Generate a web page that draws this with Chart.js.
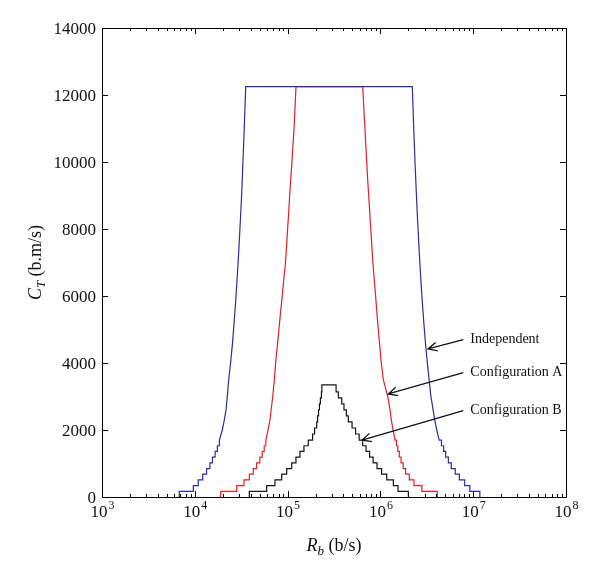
<!DOCTYPE html>
<html>
<head>
<meta charset="utf-8">
<script src="https://cdn.jsdelivr.net/npm/chart.js@4"></script>
<style>
  html, body { margin: 0; padding: 0; background: #fff; }
  canvas { display: block; }
</style>
</head>
<body>
<canvas id="chart" width="600" height="576"></canvas>
<script>
// traced vertices: R_b (b/s) and C_T (b.m/s). Stair corners where the steps are visible,
// plain points along the steep part where the steps are finer than a pixel.
const indepX = [6800, 6800, 9640, 9640, 10900, 10900, 12170, 12170, 13400, 13400, 14550, 14550, 15500, 15500, 16550, 16550, 17500, 17500, 18400, 18400,
  19800, 20800, 21700, 22400, 23200, 24300, 25500, 26500, 27500, 28400, 29300, 30100, 30900, 31700, 32400, 33000, 33700, 34300, 34900, 35400,
  2207000, 2235000, 2274000, 2316000, 2361000, 2411000, 2464000, 2523000, 2588000, 2660000, 2740000, 2832000, 2937000, 3059000, 3205000, 3351000,
  3500000, 3700000, 3850000, 4050000, 4300000,
  4550000, 4550000, 4800000, 4800000, 5050000, 5050000, 5400000, 5400000, 5800000, 5800000, 6400000, 6400000, 7100000, 7100000, 8100000, 8100000, 9200000, 9200000, 11800000, 11800000];
const indepY = [0, 170, 170, 340, 340, 510, 510, 680, 680, 850, 850, 1020, 1020, 1190, 1190, 1360, 1360, 1530, 1530, 1700,
  2000, 2300, 2600, 3000, 3500, 4000, 4600, 5200, 5800, 6400, 7000, 7600, 8200, 8800, 9400, 10000, 10600, 11200, 11800, 12250,
  12250, 11800, 11200, 10600, 10000, 9400, 8800, 8200, 7600, 7000, 6400, 5800, 5200, 4600, 4000, 3500,
  3000, 2600, 2300, 2000, 1700,
  1700, 1530, 1530, 1360, 1360, 1190, 1190, 1020, 1020, 850, 850, 680, 680, 510, 510, 340, 340, 170, 170, 0];

const confAX = [19000, 19000, 28300, 28300, 33900, 33900, 38700, 38700, 42700, 42700, 46400, 46400, 50300, 50300, 53300, 53300, 56000, 56000, 58300, 58300,
  61500, 64600, 66500, 69200, 72000, 74300, 77400, 80600, 83900, 87500, 91000, 94900, 97500, 100000, 102800, 105300, 108300, 111200, 114300, 117400, 119600, 122000, 123200,
  645000, 651900, 665800, 681500, 696200, 712000, 728100, 748200, 767100, 788400, 808200, 830500, 857600, 887900, 917000, 949400, 985200, 1022600, 1074600,
  1200000, 1270000, 1310000, 1370000, 1440000,
  1490000, 1490000, 1540000, 1540000, 1600000, 1600000, 1670000, 1670000, 1760000, 1760000, 1870000, 1870000, 2050000, 2050000, 2300000, 2300000, 2800000, 2800000, 4100000, 4100000];
const confAY = [0, 170, 170, 340, 340, 510, 510, 680, 680, 850, 850, 1020, 1020, 1190, 1190, 1360, 1360, 1530, 1530, 1700,
  2000, 2300, 2600, 3000, 3500, 4000, 4500, 5000, 5500, 6000, 6500, 7000, 7500, 8000, 8500, 9000, 9500, 10000, 10500, 11000, 11500, 12000, 12250,
  12250, 12000, 11500, 11000, 10500, 10000, 9500, 9000, 8500, 8000, 7500, 7000, 6500, 6000, 5500, 5000, 4500, 4000, 3500,
  3000, 2600, 2300, 2000, 1700,
  1700, 1530, 1530, 1360, 1360, 1190, 1190, 1020, 1020, 850, 850, 680, 680, 510, 510, 340, 340, 170, 170, 0];

// Configuration B: R_b where the staircase jumps, and the level it jumps to
const confBX = [38700, 38700, 59500, 73100, 86400, 97800, 110700, 123000, 136000, 150000, 167000, 186000, 195400, 205900, 210400, 215400, 220400, 225500, 231500, 234000,
  333000, 352000, 383000, 405000, 430000, 451000, 495000, 540000, 590000, 645000, 700000, 765000, 835000, 920000, 1030000, 1170000, 1380000, 1548000, 2000000];
const confBY = [0, 170, 340, 510, 680, 850, 1020, 1190, 1360, 1530, 1700, 1880, 2060, 2240, 2420, 2600, 2780, 2960, 3140, 3350,
  3140, 2960, 2780, 2600, 2420, 2240, 2060, 1880, 1700, 1530, 1360, 1190, 1020, 850, 680, 510, 340, 170, 0];

const xTickExps = [3, 4, 5, 6, 7, 8];
const yTicks = [0, 2000, 4000, 6000, 8000, 10000, 12000, 14000];

// labels: arrow tip (on the curve) and tail/text anchor, in data units
const notes = [
  { text: 'Independent', tip: [3260000, 4420], tail: [7820000, 4700] },
  { text: 'Configuration A', tip: [1216000, 3075], tail: [7820000, 3710] },
  { text: 'Configuration B', tip: [634000, 1700], tail: [7820000, 2576] }
];

const pts = (xs, ys) => xs.map((x, i) => ({ x, y: ys[i] }));
const serif = '"Liberation Serif", "DejaVu Serif", serif';

const frame = {
  id: 'frame',
  afterDraw(chart) {
    const { ctx, chartArea: a, scales } = chart;
    const sx = scales.x, sy = scales.y;
    ctx.save();
    ctx.strokeStyle = '#000';
    ctx.lineWidth = 1;
    ctx.strokeRect(a.left + 0.5, a.top + 0.5, a.right - a.left, a.bottom - a.top);

    // y ticks, inside on both sides
    ctx.fillStyle = '#111';
    ctx.font = '17px ' + serif;
    ctx.textAlign = 'right';
    ctx.textBaseline = 'middle';
    yTicks.forEach((v) => {
      const y = Math.round(sy.getPixelForValue(v)) + 0.5;
      ctx.beginPath();
      ctx.moveTo(a.left, y); ctx.lineTo(a.left + 6, y);
      ctx.moveTo(a.right, y); ctx.lineTo(a.right - 6, y);
      ctx.stroke();
      ctx.fillText(String(v), a.left - 6, y + 1);
    });

    // x ticks (log), major + minor, inside bottom and top
    xTickExps.forEach((e, i) => {
      for (let m = 1; m <= 9; m++) {
        if (m > 1 && i === xTickExps.length - 1) break;
        const x = Math.round(sx.getPixelForValue(m * Math.pow(10, e))) + 0.5;
        const len = m === 1 ? 6 : 3;
        ctx.beginPath();
        ctx.moveTo(x, a.bottom); ctx.lineTo(x, a.bottom - len);
        ctx.moveTo(x, a.top); ctx.lineTo(x, a.top + len);
        ctx.stroke();
      }
      const x = sx.getPixelForValue(Math.pow(10, e));
      ctx.textBaseline = 'alphabetic';
      ctx.textAlign = 'left';
      ctx.font = '17px ' + serif;
      const w1 = ctx.measureText('10').width;
      ctx.font = '12px ' + serif;
      const w2 = ctx.measureText(String(e)).width;
      const x0 = x - (w1 + w2) / 2;
      ctx.font = '17px ' + serif;
      ctx.fillText('10', x0, 517);
      ctx.font = '12px ' + serif;
      ctx.fillText(String(e), x0 + w1 + 1, 509);
    });

    // axis titles
    const parts = (list, cx, cy) => {
      let total = 0;
      list.forEach((p) => { ctx.font = p.f; total += ctx.measureText(p.t).width; });
      let x = cx - total / 2;
      list.forEach((p) => {
        ctx.font = p.f;
        ctx.fillText(p.t, x, cy + (p.dy || 0));
        x += ctx.measureText(p.t).width;
      });
    };
    ctx.textAlign = 'left';
    ctx.textBaseline = 'alphabetic';
    parts([
      { t: 'R', f: 'italic 18px ' + serif },
      { t: 'b', f: 'italic 13px ' + serif, dy: 4 },
      { t: ' (b/s)', f: '18px ' + serif }
    ], (a.left + a.right) / 2, 551);

    ctx.save();
    ctx.translate(41, (a.top + a.bottom) / 2);
    ctx.rotate(-Math.PI / 2);
    parts([
      { t: 'C', f: 'italic 18px ' + serif },
      { t: 'T', f: 'italic 13px ' + serif, dy: 4 },
      { t: ' (b.m/s)', f: '18px ' + serif }
    ], 0, 0);
    ctx.restore();

    // arrows with labels
    ctx.lineWidth = 1.3;
    ctx.strokeStyle = '#111';
    notes.forEach((n) => {
      const tx = sx.getPixelForValue(n.tip[0]), ty = sy.getPixelForValue(n.tip[1]);
      const bx = sx.getPixelForValue(n.tail[0]), by = sy.getPixelForValue(n.tail[1]);
      const ang = Math.atan2(by - ty, bx - tx);
      ctx.beginPath();
      ctx.moveTo(bx, by); ctx.lineTo(tx, ty);
      ctx.moveTo(tx + 10 * Math.cos(ang + 0.45), ty + 10 * Math.sin(ang + 0.45));
      ctx.lineTo(tx, ty);
      ctx.lineTo(tx + 10 * Math.cos(ang - 0.45), ty + 10 * Math.sin(ang - 0.45));
      ctx.stroke();
      ctx.font = '14px ' + serif;
      ctx.textBaseline = 'middle';
      ctx.fillText(n.text, bx + 7, by);
    });
    ctx.restore();
  }
};

new Chart(document.getElementById('chart'), {
  type: 'line',
  data: {
    datasets: [
      { label: 'Independent', data: pts(indepX, indepY), borderColor: '#2b2f9c' },
      { label: 'Configuration A', data: pts(confAX, confAY), borderColor: '#e4202a' },
      { label: 'Configuration B', data: pts(confBX, confBY), borderColor: '#151515', stepped: true }
    ]
  },
  options: {
    responsive: false,
    animation: false,
    layout: { padding: { left: 102, right: 34, top: 28, bottom: 79 } },
    // tiny tension keeps Chart.js off its pixel-merging fast path, so the traced vertices stay exact
    datasets: { line: { borderWidth: 1.2, pointRadius: 0, fill: false, tension: 0.0001 } },
    plugins: { legend: { display: false }, tooltip: { enabled: false } },
    scales: {
      x: { type: 'logarithmic', min: 1000, max: 100000000, display: false },
      y: { type: 'linear', min: 0, max: 14000, display: false }
    }
  },
  plugins: [frame]
});
</script>
</body>
</html>
